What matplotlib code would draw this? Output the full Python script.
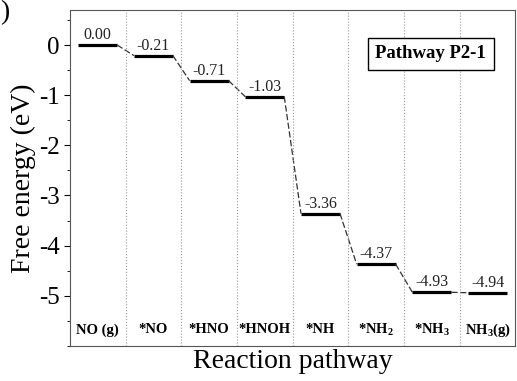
import numpy as np
import matplotlib
matplotlib.use("Agg")
import matplotlib.pyplot as plt
from matplotlib.ticker import MultipleLocator

plt.rcParams['font.family'] = 'Liberation Serif'
plt.rcParams['mathtext.fontset'] = 'custom'
plt.rcParams['mathtext.rm'] = 'Liberation Serif'
plt.rcParams['mathtext.bf'] = 'Liberation Serif:bold'

states = ["NO (g)", "*NO", "*HNO", "*HNOH", "*NH",
          r"*NH$_\mathbf{2}$", r"*NH$_\mathbf{3}$", r"NH$_\mathbf{3}$(g)"]
energies = [0.00, -0.21, -0.71, -1.03, -3.36, -4.37, -4.93, -4.94]

fig = plt.figure(figsize=(5.17, 3.81), dpi=100)
ax = fig.add_axes([0.135, 0.092, 0.862, 0.882])

w = 0.35
for i, e in enumerate(energies):
    ax.plot([i + 0.5 - w, i + 0.5 + w], [e, e], color='black', lw=2.3, solid_capstyle='butt')
    ax.text(i + 0.5, e + 0.04, "%.2f" % e, ha='center', va='bottom', fontsize=11.5, color='#222222')
    ax.text(i + 0.5, -5.68, states[i], ha='center', va='center', fontsize=10.5, fontweight='bold')
    if i > 0:
        ax.plot([i - 0.5 + w, i + 0.5 - w], [energies[i - 1], e], color='#333333', lw=0.9, ls=(0, (5, 2)))

for i in range(1, len(energies)):
    ax.axvline(i, color='#999999', lw=0.8, ls=':')

ax.text(6.48, -0.17, "Pathway P2-1", ha='center', va='center', fontsize=13.5, fontweight='bold',
        bbox=dict(boxstyle='square,pad=0.4', fc='white', ec='black', lw=1))

ax.set_xlim(0, 8)
ax.set_ylim(-6.0, 0.7)
ax.set_xticks([])
ax.yaxis.set_major_locator(MultipleLocator(1))
ax.yaxis.set_minor_locator(MultipleLocator(0.5))
ax.tick_params(axis='y', which='major', direction='out', length=4, labelsize=18)
ax.tick_params(axis='y', which='minor', direction='out', length=2.5)
ax.set_yticks([0, -1, -2, -3, -4, -5])
ax.set_yticklabels(['0', '-1', '-2', '-3', '-4', '-5'])
ax.set_ylabel("Free energy (eV)", fontsize=20, labelpad=2)
ax.set_xlabel("Reaction pathway", fontsize=20, labelpad=2)
for s in ax.spines.values():
    s.set_color('#555555')

fig.text(0.0, 1.0, ")", fontsize=20, va='top', ha='left')

fig.savefig("out.png", dpi=100)
